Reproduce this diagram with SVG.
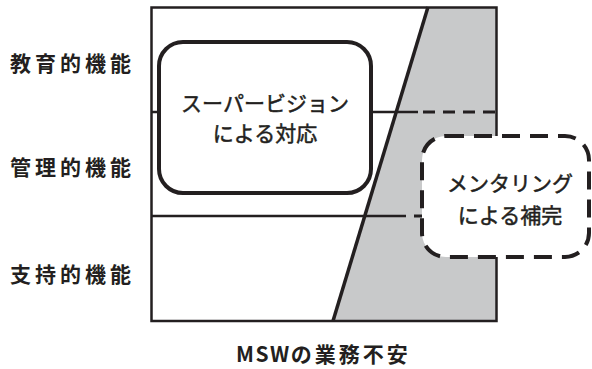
<svg xmlns="http://www.w3.org/2000/svg" width="592" height="369" viewBox="0 0 592 369">
<style>
.ln{stroke:#231f20;fill:none;stroke-width:2.5}
.dl{stroke:#231f20;fill:none;stroke-width:3;stroke-dasharray:12 8}
.lbl{font-family:"Noto Sans CJK JP","Noto Sans",sans-serif;font-weight:bold;font-size:21px;fill:#231f20;letter-spacing:4px}
.bt{font-family:"Noto Sans CJK JP","Noto Sans",sans-serif;font-size:21px;fill:#231f20;stroke:#231f20;stroke-width:0.5}
</style>
<rect width="592" height="369" fill="#fff"/>
<g id="frame">
<polygon points="428,7 496.5,7 496.5,321 333,321" fill="#c8c9ca"/>
<rect x="151.5" y="7.5" width="345" height="313.5" class="ln"/>
<line x1="428" y1="7" x2="333" y2="321" stroke="#231f20" stroke-width="3.5"/>
</g>
<g id="connectors">
<line x1="151" y1="112" x2="159" y2="112" class="ln"/>
<line x1="371" y1="112" x2="418" y2="112" class="ln"/>
<line x1="423" y1="112" x2="497" y2="112" class="dl"/>
<line x1="151" y1="216" x2="406" y2="216" class="ln"/>
<line x1="414" y1="216" x2="422" y2="216" class="dl"/>
</g>
<g id="supervision">
<rect x="159" y="42" width="212" height="151" rx="24" fill="#fff" stroke="#231f20" stroke-width="4"/>
<text class="bt" x="265" y="111" text-anchor="middle">スーパービジョン</text>
<text class="bt" x="265" y="141" text-anchor="middle">による対応</text>
</g>
<g id="mentoring">
<rect x="422" y="136" width="167" height="121" rx="24" fill="#fff" stroke="#231f20" stroke-width="4" stroke-dasharray="18 10"/>
<text class="bt" x="510" y="191" text-anchor="middle">メンタリング</text>
<text class="bt" x="510" y="223" text-anchor="middle">による補完</text>
</g>
<g id="labels">
<text class="lbl" x="10" y="71">教育的機能</text>
<text class="lbl" x="10" y="175">管理的機能</text>
<text class="lbl" x="10" y="282">支持的機能</text>
<text class="lbl" x="236" y="362" style="letter-spacing:1.5px">MSW<tspan style="letter-spacing:3px">の業務不安</tspan></text>
</g>
</svg>
